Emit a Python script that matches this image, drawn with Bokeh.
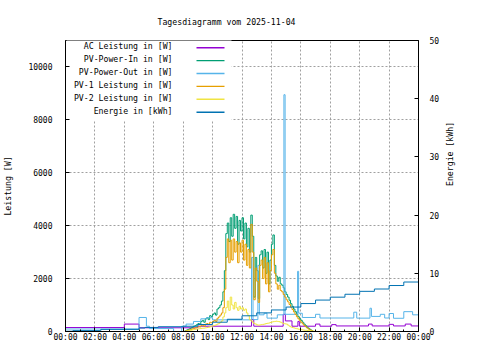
import math
from bokeh.plotting import figure
from bokeh.models import Range1d, LinearAxis, FixedTicker, Label, BoxAnnotation
from bokeh.embed import file_html
from bokeh.resources import INLINE

# ---------------- data ----------------
title_text = "Tagesdiagramm vom 2025-11-04"
x_ticks = [0, 2, 4, 6, 8, 10, 12, 14, 16, 18, 20, 22, 24]
x_minor = [1, 3, 5, 7, 9, 11, 13, 15, 17, 19, 21, 23]
x_tick_labels = ["00:00", "02:00", "04:00", "06:00", "08:00", "10:00", "12:00",
                 "14:00", "16:00", "18:00", "20:00", "22:00", "00:00"]
y_ticks = [0, 2000, 4000, 6000, 8000, 10000]
y2_ticks = [0, 10, 20, 30, 40, 50]

series_names = ["AC Leistung in [W]", "PV-Power-In in [W]", "PV-Power-Out in [W]",
                "PV-1 Leistung in [W]", "PV-2 Leistung in [W]", "Energie in [kWh]"]
series_colors = ["#9400D3", "#009E73", "#56B4E9", "#E69F00", "#F0E442", "#0072B2"]

# AC Leistung (W)
t_ac = [0.0, 4.0, 5.0, 9.0, 12.65, 12.8, 14.8, 14.95, 15.4, 15.8, 15.9, 16.0, 17.0, 17.3,
        18.1, 18.4, 20.6, 20.85, 22.0, 22.3, 23.1, 23.5, 24.0]
v_ac = [150, 280, 140, 200, 450, 200, 650, 400, 200, 380, 200, 200, 280, 200,
        260, 210, 280, 210, 270, 210, 280, 210, 210]

# PV-Power-Out (W)
t_out = [0.0, 5.0, 5.5, 5.7, 7.35, 7.9, 8.2, 8.7, 9.2, 9.6, 10.0, 12.65, 12.75, 13.08, 13.18,
         13.5, 13.7, 14.4, 14.85, 14.93, 15.78, 15.85, 16.1, 17.0, 17.3, 19.6, 19.8, 20.7, 20.8,
         21.4, 21.7, 22.0, 22.3, 23.0, 23.6, 24.0]
v_out = [95, 530, 200, 110, 0, 200, 280, 380, 480, 520, 440, 2800, 450, 2500, 630,
         690, 505, 630, 8950, 650, 2275, 690, 530, 650, 510, 730, 505, 880, 570,
         650, 510, 680, 500, 750, 630, 630]

# PV series sampled every 6 minutes from 08:00 to 17:00
pv_start, pv_step = 8.0, 0.1
pv_in = [0, 20, 50, 80, 100, 130, 160, 200, 220, 260,
         300, 280, 380, 420, 350, 480, 520, 450, 600, 560,
         650, 700, 620, 850, 900, 1000, 1150, 1500, 2300, 3700,
         4100, 3400, 4300, 3600, 4430, 3900, 4350, 3300, 4200, 3800,
         4300, 3500, 4100, 3200, 3900, 3000, 4400, 3600, 1300, 2800,
         2300, 1250, 2900, 3050, 2400, 3100, 2200, 3000, 1800, 2700,
         3300, 3650, 2500, 2100, 1900, 2050, 1800, 1750, 1650, 1500,
         1400, 1300, 1180, 1050, 950, 850, 750, 650, 560, 480,
         420, 350, 280, 220, 160, 120, 80, 40, 0, 0, 0]
pv_1 = [0, 10, 30, 50, 60, 80, 100, 120, 140, 160,
        180, 170, 220, 250, 200, 280, 300, 260, 350, 330,
        380, 420, 380, 500, 550, 620, 700, 900, 1600, 2800,
        3500, 2600, 3450, 2700, 3500, 3000, 3400, 2600, 3350, 3000,
        3450, 2700, 3300, 2500, 3100, 2400, 4050, 3000, 1200, 2400,
        1900, 1100, 2500, 2700, 2000, 2800, 1800, 2600, 1500, 2300,
        2900, 3100, 2200, 1800, 1600, 1750, 1550, 1500, 1400, 1300,
        1200, 1120, 1020, 920, 830, 740, 650, 560, 480, 410,
        350, 290, 230, 180, 130, 90, 60, 30, 0, 0, 0]
pv_2 = [0, 10, 20, 30, 40, 50, 60, 70, 80, 90,
        100, 110, 120, 125, 130, 140, 150, 160, 180, 200,
        220, 230, 250, 280, 300, 350, 400, 550, 700, 900,
        1150, 800, 1300, 1000, 850, 1100, 900, 800, 950, 850,
        900, 800, 850, 700, 600, 450, 400, 350, 300, 280,
        250, 240, 250, 260, 270, 280, 300, 310, 320, 340,
        360, 370, 380, 390, 380, 370, 350, 320, 300, 290,
        280, 240, 200, 170, 150, 135, 120, 105, 90, 80,
        70, 60, 50, 45, 40, 35, 30, 20, 15, 5, 0]
t_pv = [round(pv_start + pv_step * i, 2) for i in range(len(pv_in))]

# Energie (kWh)
t_en = [0.0, 0.5, 2.4, 5.0, 5.4, 6.3, 8.0, 9.0, 10.0, 11.0, 12.0, 13.0, 14.0, 15.0,
        16.0, 17.0, 18.0, 19.0, 20.0, 21.0, 22.0, 23.0, 24.0]
v_en = [0.05, 0.15, 0.37, 0.6, 0.7, 0.82, 0.9, 1.2, 1.6, 2.1, 2.7, 3.2, 3.7, 4.2,
        4.8, 5.4, 5.9, 6.4, 6.9, 7.3, 7.9, 8.5, 9.05]

# ---------------- figure ----------------
FONT = "DejaVu Sans Mono"
FS_TICK = "8px"
FS_TXT = "8.2px"

p = figure(width=464, height=344, output_backend="svg", toolbar_location=None,
           title=title_text,
           x_range=Range1d(0, 24), y_range=Range1d(0, 11000),
           min_border_left=65, min_border_right=46, min_border_top=39, min_border_bottom=11)
p.extra_y_ranges = {"energy": Range1d(0, 50)}
p.background_fill_color = "white"
p.border_fill_color = "white"
p.outline_line_color = "black"
p.outline_line_alpha = 1.0
p.outline_line_width = 1

p.title.text_font = FONT
p.title.text_font_size = FS_TXT
p.title.text_font_style = "normal"
p.title.text_color = "black"
p.title.align = "left"
p.title.offset = 92
p.title.standoff = 28

xt = FixedTicker(ticks=x_ticks, minor_ticks=x_minor)
p.xaxis.ticker = xt
p.xaxis.major_label_overrides = {t: lab for t, lab in zip(x_ticks, x_tick_labels)}
p.yaxis.ticker = FixedTicker(ticks=y_ticks)
p.yaxis.axis_label = "Leistung [W]"

ax2 = LinearAxis(y_range_name="energy", ticker=FixedTicker(ticks=y2_ticks),
                 axis_label="Energie [kWh]")
p.add_layout(ax2, "right")

for ax in [p.xaxis[0], p.yaxis[0], ax2]:
    ax.axis_line_color = "black"
    ax.major_tick_line_color = "black"
    ax.major_tick_in = 4
    ax.major_tick_out = 0
    ax.minor_tick_in = 2
    ax.minor_tick_out = 0
    ax.major_label_text_font = FONT
    ax.major_label_text_font_size = FS_TICK
    ax.major_label_text_color = "black"
    ax.axis_label_text_font = FONT
    ax.axis_label_text_font_size = FS_TXT
    ax.axis_label_text_font_style = "normal"
    ax.axis_label_text_color = "black"
p.yaxis[0].minor_tick_line_color = None
ax2.minor_tick_line_color = None
ax2.axis_label_orientation = math.pi / 2
p.xaxis[0].major_label_standoff = 1
p.yaxis[0].major_label_standoff = 13
p.yaxis[0].axis_label_standoff = 12
ax2.major_label_standoff = 11
ax2.axis_label_standoff = 8

p.xgrid.ticker = xt
p.ygrid.ticker = FixedTicker(ticks=y_ticks)
for g in [p.xgrid[0], p.ygrid[0]]:
    g.grid_line_color = "#a0a0a0"
    g.grid_line_dash = "2 2"
    g.grid_line_width = 1

# legend background (opaque key box)
p.add_layout(BoxAnnotation(left=1, right=166, bottom=211, top=293.5,
                           left_units="screen", right_units="screen",
                           bottom_units="screen", top_units="screen",
                           fill_color="white", fill_alpha=1.0, line_color=None,
                           level="underlay"))

# ---------------- data lines ----------------
p.step(t_ac, v_ac, mode="after", line_color=series_colors[0], line_width=1)
p.step(t_pv, pv_in, mode="after", line_color=series_colors[1], line_width=1)
p.step(t_out, v_out, mode="after", line_color=series_colors[2], line_width=1)
p.step(t_pv, pv_1, mode="after", line_color=series_colors[3], line_width=1)
p.step(t_pv, pv_2, mode="after", line_color=series_colors[4], line_width=1)
p.step(t_en, v_en, mode="after", line_color=series_colors[5], line_width=1,
       y_range_name="energy")

# ---------------- key ----------------
row_top = 285.3
row_gap = 12.9
for i, (name, col) in enumerate(zip(series_names, series_colors)):
    yy = row_top - i * row_gap
    p.add_layout(Label(x=107, y=yy, x_units="screen", y_units="screen", text=name,
                       text_align="right", text_baseline="middle",
                       text_font=FONT, text_font_size=FS_TXT, text_color="black"))
    p.add_layout(BoxAnnotation(left=131, right=159, bottom=yy - 2.2, top=yy - 0.8,
                               left_units="screen", right_units="screen",
                               bottom_units="screen", top_units="screen",
                               fill_color=col, fill_alpha=1.0, line_color=None))

open("out.html", "w").write(file_html(p, INLINE))
